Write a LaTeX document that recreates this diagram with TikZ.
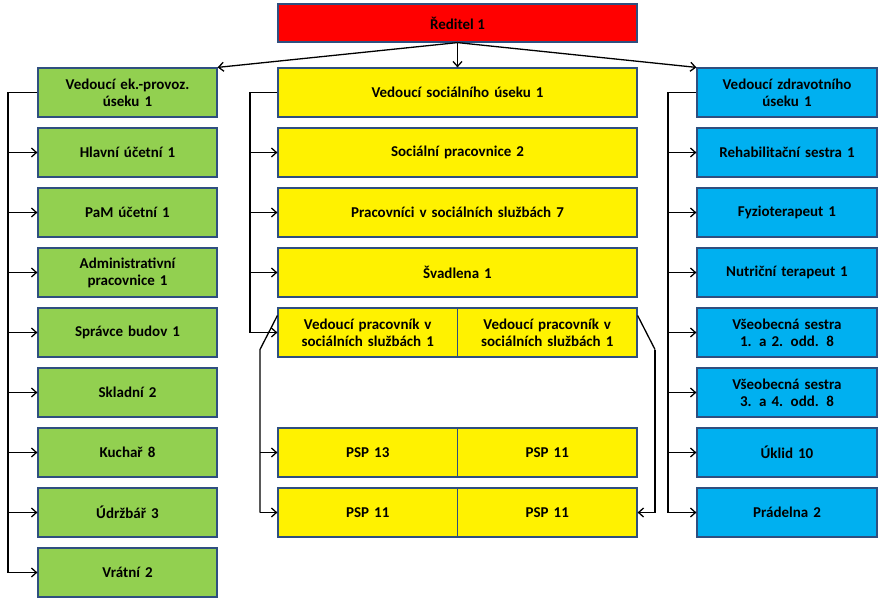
\documentclass[tikz,border=0pt]{standalone}
\usepackage{fontspec}
\setmainfont{Carlito}
\usetikzlibrary{arrows.meta}
\definecolor{gr}{HTML}{92D050}
\definecolor{bl}{HTML}{00B0F0}
\definecolor{bd}{HTML}{2F4F7F}
\tikzset{
 bx/.style={draw=bd,line width=1.2pt,minimum height=49pt,align=center,inner sep=1pt,font=\bfseries\fontsize{15}{17}\selectfont},
 gbox/.style={bx,fill=gr,minimum width=179pt,text width=170pt},
 ybox/.style={bx,fill=yellow,minimum width=359pt,text width=350pt},
 hbox/.style={bx,fill=yellow,minimum width=179.5pt,text width=175pt},
 bbox/.style={bx,fill=bl,minimum width=180pt,text width=178pt},
 ar/.style={-{Straight Barb[length=5pt,width=9pt]},line width=1.3pt},
 ln/.style={line width=1.3pt}
}
\begin{document}
\begin{tikzpicture}[x=1pt,y=-1pt]
\useasboundingbox (0,0) rectangle (886,603);
\node[bx,fill=red,minimum width=359pt,minimum height=38pt] (top) at (457.5,23) {Ředitel 1};
% left
\foreach \i/\t in {0/{Vedoucí ek.-provoz.\\úseku 1},1/{Hlavní účetní 1},2/{PaM účetní 1},3/{Administrativní\\pracovnice 1},4/{Správce budov 1},5/{Skladní 2},6/{Kuchař 8},7/{Údržbář 3},8/{Vrátní 2}}
  \node[gbox] (L\i) at (127.5,92.5+60*\i) {\t};
% middle
\foreach \i/\t in {0/{Vedoucí sociálního úseku 1},1/{Sociální pracovnice 2},2/{Pracovníci v sociálních službách 7},3/{Švadlena 1}}
  \node[ybox] (M\i) at (457.5,92.5+60*\i) {\t};
\node[hbox] (VA) at (367.75,332.5) {Vedoucí pracovník v\\sociálních službách 1};
\node[hbox] (VB) at (547.25,332.5) {Vedoucí pracovník v\\sociálních službách 1};
\node[hbox] (P1) at (367.75,452.5) {PSP 13};
\node[hbox] (P2) at (547.25,452.5) {PSP 11};
\node[hbox] (P3) at (367.75,512.5) {PSP 11};
\node[hbox] (P4) at (547.25,512.5) {PSP 11};
% right
\foreach \i/\t in {0/{Vedoucí zdravotního\\úseku 1},1/{Rehabilitační sestra 1},2/{Fyzioterapeut 1},3/{Nutriční terapeut 1},4/{Všeobecná sestra\\1. a 2. odd. 8},5/{Všeobecná sestra\\3. a 4. odd. 8},6/{Úklid 10},7/{Prádelna 2}}
  \node[bbox] (R\i) at (787,92.5+60*\i) {\t};
% top arrows
\coordinate (tb) at (top.south);
\draw[ar] (tb) -- (L0.north east);
\draw[ar] (tb) -- (M0.north);
\draw[ar] (tb) -- (R0.north west);
% left bus
\draw[ln] (L0.west) -- (8,92.5) -- (8,572.5);
\foreach \i in {1,...,8} \draw[ar] (8,92.5+60*\i) -- (L\i.west);
% middle bus
\draw[ln] (M0.west) -- (250,92.5) -- (250,332.5);
\foreach \i in {1,2,3} \draw[ar] (250,92.5+60*\i) -- (M\i.west);
\draw[ar] (250,332.5) -- (VA.west);
% lower middle
\draw[ln] ([yshift=17pt]VA.west) -- (260,349.5) -- (260,512.5);
\draw[ar] (260,452.5) -- (P1.west);
\draw[ar] (260,512.5) -- (P3.west);
\draw[ln] ([yshift=17pt]VB.east) -- (655,349.5);
\draw[ar] (655,349.5) -- (655,512.5) -- (P4.east);
% right bus
\draw[ln] (R0.west) -- (668,92.5) -- (668,512.5);
\foreach \i in {1,...,7} \draw[ar] (668,92.5+60*\i) -- (R\i.west);
\end{tikzpicture}
\end{document}
